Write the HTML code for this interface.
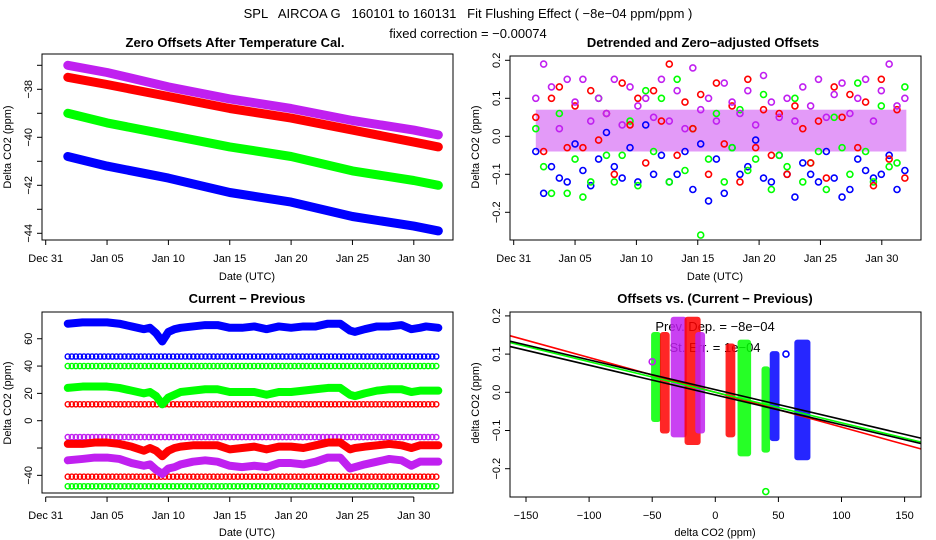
<!DOCTYPE html>
<html><head><meta charset="utf-8"><style>
html,body{margin:0;padding:0;background:#fff;}
svg{display:block;font-family:"Liberation Sans",sans-serif;}
.t{font-size:11px;fill:#000;}
.h{font-size:13px;font-weight:bold;fill:#000;}
</style></head><body>
<svg id="c" width="936" height="540" viewBox="0 0 936 540">
<text x="468" y="18" text-anchor="middle" style="font-size:13px;white-space:pre">SPL   AIRCOA G   160101 to 160131   Fit Flushing Effect ( −8e−04 ppm/ppm )</text>
<text x="468" y="38" text-anchor="middle" style="font-size:13px">fixed correction = −0.00074</text>
</svg>
<script>
// ---- Panel 1 data: zero offsets (days since Dec 31)
const p1Days=[1.8,5,10,15,20,25,30,32];
const p1Blue=[-40.8,-41.2,-41.7,-42.3,-42.7,-43.3,-43.7,-43.9];
const p1Green=[-39.0,-39.4,-39.9,-40.4,-40.8,-41.4,-41.8,-42.0];
const p1Red=[-37.5,-37.8,-38.3,-38.8,-39.2,-39.7,-40.2,-40.4];
const p1Purple=[-37.0,-37.3,-37.9,-38.4,-38.8,-39.3,-39.7,-39.9];
const p1Ticks=[-44,-42,-40,-38];
const dateTicks=[0,5,10,15,20,25,30];
const dateLabels=["Dec 31","Jan 05","Jan 10","Jan 15","Jan 20","Jan 25","Jan 30"];
// ---- Panel 2 data: detrended offsets
const p2Start=1.8, p2Step=0.64;
const p2Blue=[-0.04,-0.15,-0.08,-0.11,-0.12,-0.02,-0.09,-0.13,-0.06,0.01,-0.08,-0.11,-0.03,-0.12,0.03,-0.10,-0.05,-0.12,-0.1,-0.04,-0.14,-0.02,-0.17,-0.06,-0.15,-0.03,-0.10,-0.08,-0.01,-0.11,-0.12,-0.05,-0.10,-0.16,-0.07,-0.10,-0.12,-0.04,-0.11,-0.16,-0.14,-0.06,-0.09,-0.11,-0.10,-0.05,-0.14,-0.09];
const p2Green=[0.02,-0.08,-0.15,0.06,-0.15,-0.06,-0.16,-0.12,0.10,-0.05,-0.12,-0.05,0.04,-0.13,0.12,-0.04,0.10,-0.12,0.15,-0.09,0.02,-0.26,-0.06,0.06,-0.12,-0.03,0.07,-0.09,-0.06,0.11,-0.14,-0.05,-0.08,0.10,-0.12,-0.07,-0.04,-0.14,0.05,-0.03,-0.10,0.14,-0.04,-0.12,0.08,-0.08,-0.07,0.13];
const p2Red=[0.05,-0.04,0.10,0.13,-0.03,0.08,-0.03,0.12,-0.01,0.06,-0.10,0.14,0.03,0.10,-0.07,0.12,0.04,0.19,-0.05,0.09,0.02,0.11,-0.10,0.14,-0.02,0.08,-0.12,0.15,-0.03,0.07,-0.05,0.06,-0.10,0.08,0.02,-0.07,0.04,-0.11,0.13,0.05,0.11,-0.03,0.09,-0.13,0.15,-0.06,0.07,-0.11];
const p2Purple=[0.10,0.19,0.13,0.02,0.15,0.09,0.15,0.04,0.10,0.06,0.15,0.03,0.13,0.08,0.10,0.05,0.15,0.04,0.12,0.02,0.18,0.07,0.10,0.04,0.14,0.09,0.06,0.12,0.03,0.16,0.09,0.05,0.10,0.04,0.13,0.08,0.15,0.05,0.11,0.14,0.06,0.10,0.15,0.04,0.12,0.19,0.08,0.10];
const p2Band=[-0.04,0.07];
const p2Ticks=[-0.2,-0.1,0.0,0.1,0.2];
// ---- Panel 3 data: current - previous
const p3Days=[1.8,3,4,5,6,7,8,8.5,9,9.5,10,10.5,11,12,13,14,15,16,17,18,19,20,21,22,23,24,24.8,25.2,26,27,28,29,29.8,30.5,31,32];
const p3Blue=[71,72,72,72,71,69,67,68,64,58,65,67,68,69,70,70,68,68,69,67,69,68,69,69,71,71,66,65,67,69,69,70,67,68,69,68];
const p3Green=[24,25,25,25,24,22,20,21,18,12,17,19,21,22,23,23,21,21,21,19,21,21,22,23,24,24,19,18,20,22,23,23,21,22,22,22];
const p3Red=[-17,-17,-16,-16,-17,-19,-22,-20,-22,-26,-22,-20,-19,-18,-18,-18,-21,-20,-19,-21,-19,-19,-20,-18,-16,-16,-21,-20,-19,-18,-17,-18,-20,-18,-18,-18];
const p3Purple=[-29,-28,-27,-27,-28,-31,-33,-32,-36,-39,-35,-34,-32,-30,-29,-30,-33,-34,-33,-34,-31,-31,-32,-30,-27,-27,-35,-34,-32,-30,-28,-29,-33,-30,-30,-30];
const p3Levels=[47,40,12,-12,-41,-48];
const p3LevelColors=["blue","green","red","purple","red","green"];
const p3Ticks=[-40,0,20,40,60];
// ---- Panel 4 data: offsets vs current-previous
const p4ClusterX=[-47,-40,-29,-18,-12,12,23,40,47,69];
const p4ClusterHalfW=[1.5,1.5,4,4,1.5,1.5,3,1,1.5,4];
const p4ClusterMin=[-0.07,-0.10,-0.11,-0.13,-0.10,-0.11,-0.16,-0.15,-0.12,-0.17];
const p4ClusterMax=[0.15,0.15,0.19,0.19,0.15,0.12,0.13,0.06,0.10,0.13];
const p4ClusterColor=["green","red","purple","red","purple","red","green","green","blue","blue"];
const p4OutX=[40,-50,56], p4OutY=[-0.26,0.08,0.10], p4OutC=["green","purple","blue"];
const p4LineSlope=[-0.00091,-0.0008,-0.00078,-0.00078];
const p4LineInt=[0,0,0.007,-0.007];
const p4LineColor=["red","green","black","black"];
const p4XTicks=[-150,-100,-50,0,50,100,150];
const p4YTicks=[-0.2,-0.1,0.0,0.1,0.2];

const NS="http://www.w3.org/2000/svg";
const svg=document.getElementById('c');
const COL={blue:"#0000ff",green:"#00ff00",red:"#ff0000",purple:"#c020f0",black:"#000"};
function mk(tag,attrs,parent){const e=document.createElementNS(NS,tag);for(const k in attrs)e.setAttribute(k,attrs[k]);(parent||svg).appendChild(e);return e;}
function grp(name){const g=mk('g',{});


return g;}

const dx=(d,off)=>45.7+off+d*12.27;
const y1=v=>89.3+(-38-v)*24;
const y2=v=>136.3-v*380;
const y3=v=>420.7-v*1.366;
const x4=v=>715.3+v*1.262;
const y4=v=>392.3-v*382;

function frame(name,x0,y0,x1,y1b){const r=mk('rect',{x:x0,y:y0,width:x1-x0,height:y1b-y0,fill:'none',stroke:'#000','stroke-width':1});

}
function title(name,x,y,s){const t=mk('text',{x:x,y:y,'text-anchor':'middle',class:'h'});t.textContent=s;

}
function label(name,x,y,s,rot){const t=mk('text',{x:x,y:y,'text-anchor':'middle',class:'t'});if(rot)t.setAttribute('transform','rotate(-90 '+x+' '+y+')');t.textContent=s;

}
function dateAxis(name,off,yA){const g=grp(name);
 mk('line',{x1:dx(0,off),x2:dx(30,off),y1:yA,y2:yA,stroke:'#000'},g);
 dateTicks.forEach((d,i)=>{const x=dx(d,off);mk('line',{x1:x,x2:x,y1:yA,y2:yA+5,stroke:'#000'},g);
  const t=mk('text',{x:x,y:yA+22,'text-anchor':'middle',class:'t'},g);t.textContent=dateLabels[i];
  
  });}
function yAxis(name,xA,ticks,sc,fmt,minor){const g=grp(name);
 const all=minor||ticks;
 mk('line',{x1:xA,x2:xA,y1:sc(Math.min(...all)),y2:sc(Math.max(...all)),stroke:'#000'},g);
 all.forEach(v=>mk('line',{x1:xA-5,x2:xA,y1:sc(v),y2:sc(v),stroke:'#000'},g));
 ticks.forEach(v=>{const y=sc(v),x=xA-10;const t=mk('text',{x:x,y:y,'text-anchor':'middle',class:'t',transform:'rotate(-90 '+x+' '+y+')'},g);t.textContent=fmt(v);
  
  });}
const minus=s=>String(s).replace('-','−');

// ===== Panel 1
title('zero-offsets-title',235,47,'Zero Offsets After Temperature Cal.');
[['blue',p1Blue],['green',p1Green],['red',p1Red],['purple',p1Purple]].forEach(([c,arr])=>{
 const pts=p1Days.map((d,i)=>dx(d,0)+','+y1(arr[i])).join(' ');
 const l=mk('polyline',{points:pts,fill:'none',stroke:COL[c],'stroke-width':9,'stroke-linecap':'round','stroke-linejoin':'round'});
 
 
});
frame('zero-offsets-plot-frame',42,54,453,240);
yAxis('zero-offsets-y-axis',42,p1Ticks,y1,v=>minus(v),[-44,-43,-42,-41,-40,-39,-38,-37]);
dateAxis('zero-offsets-x-axis',0,240);
label('zero-offsets-x-title',247,280,'Date (UTC)');
label('zero-offsets-y-title',11,147,'Delta CO2 (ppm)',true);

// ===== Panel 2
title('detrended-offsets-title',703,47,'Detrended and Zero−adjusted Offsets');
const band=mk('rect',{x:dx(1.8,468),y:y2(p2Band[1]),width:dx(32,468)-dx(1.8,468),height:y2(p2Band[0])-y2(p2Band[1]),fill:'#c020f0',opacity:0.45});


[['blue',p2Blue],['green',p2Green],['red',p2Red],['purple',p2Purple]].forEach(([c,arr])=>{
 const g=grp('detrended-series-'+c);
 arr.forEach((v,i)=>mk('circle',{cx:dx(p2Start+i*p2Step,468),cy:y2(v),r:3,fill:'none',stroke:COL[c],'stroke-width':1.6},g));
});
frame('detrended-plot-frame',510,56,921,240);
yAxis('detrended-y-axis',510,p2Ticks,y2,v=>minus(v.toFixed(1)));
dateAxis('detrended-x-axis',468,240);
label('detrended-x-title',715,280,'Date (UTC)');
label('detrended-y-title',479,147,'Delta CO2 (ppm)',true);

// ===== Panel 3
title('current-previous-title',247,303,'Current − Previous');
p3Levels.forEach((lv,k)=>{const g=grp('constant-level-'+p3LevelColors[k]);
 for(let d=1.8;d<=32;d+=0.33) mk('circle',{cx:dx(d,0),cy:y3(lv),r:2.6,fill:'none',stroke:COL[p3LevelColors[k]],'stroke-width':1.4},g);});
[['blue',p3Blue],['green',p3Green],['red',p3Red],['purple',p3Purple]].forEach(([c,arr])=>{
 const pts=p3Days.map((d,i)=>dx(d,0)+','+y3(arr[i])).join(' ');
 const l=mk('polyline',{points:pts,fill:'none',stroke:COL[c],'stroke-width':8,'stroke-linecap':'round','stroke-linejoin':'round'});
 
 
});
frame('current-previous-plot-frame',42,312,453,493);
yAxis('current-previous-y-axis',42,p3Ticks,y3,v=>minus(v),[-40,-20,0,20,40,60]);
dateAxis('current-previous-x-axis',0,497);
label('current-previous-x-title',247,536,'Date (UTC)');
label('current-previous-y-title',11,403,'Delta CO2 (ppm)',true);

// ===== Panel 4
title('offsets-vs-diff-title',715,303,'Offsets vs. (Current − Previous)');
const cp=mk('clipPath',{id:'c4'});mk('rect',{x:510,y:312,width:411,height:185},cp);
const g4=mk('g',{'clip-path':'url(#c4)'});


let t1=mk('text',{x:715,y:331,'text-anchor':'middle',style:'font-size:13px'},g4);t1.textContent='Prev. Dep. =  −8e−04';


let t2=mk('text',{x:715,y:352,'text-anchor':'middle',style:'font-size:13px'},g4);t2.textContent='St. Err. =  1e−04';


p4ClusterX.forEach((cx,i)=>{const x0=x4(cx-p4ClusterHalfW[i])-3,x1=x4(cx+p4ClusterHalfW[i])+3;
 const r=mk('rect',{x:x0,y:y4(p4ClusterMax[i])-3,width:x1-x0,height:y4(p4ClusterMin[i])-y4(p4ClusterMax[i])+6,rx:3,fill:COL[p4ClusterColor[i]],opacity:0.85},g4);
 
 });
p4OutX.forEach((x,i)=>{const c=mk('circle',{cx:x4(x),cy:y4(p4OutY[i]),r:3,fill:'none',stroke:COL[p4OutC[i]],'stroke-width':1.6},g4);
 
 });
p4LineSlope.forEach((s,i)=>{const l=mk('line',{x1:x4(-170),y1:y4(p4LineInt[i]+s*-170),x2:x4(170),y2:y4(p4LineInt[i]+s*170),stroke:COL[p4LineColor[i]],'stroke-width':1.6},g4);
 
 });
frame('offsets-vs-diff-plot-frame',510,312,921,497);
yAxis('offsets-vs-diff-y-axis',510,p4YTicks,y4,v=>minus(v.toFixed(1)));
(function(){const g=grp('offsets-vs-diff-x-axis');
 p4XTicks.forEach(v=>{const x=x4(v);mk('line',{x1:x,x2:x,y1:497,y2:502,stroke:'#000'},g);
  const t=mk('text',{x:x,y:519,'text-anchor':'middle',class:'t'},g);t.textContent=minus(v);
  
  });})();
label('offsets-vs-diff-x-title',715,536,'delta CO2 (ppm)');
label('offsets-vs-diff-y-title',479,403,'delta CO2 (ppm)',true);
</script>
</body></html>
